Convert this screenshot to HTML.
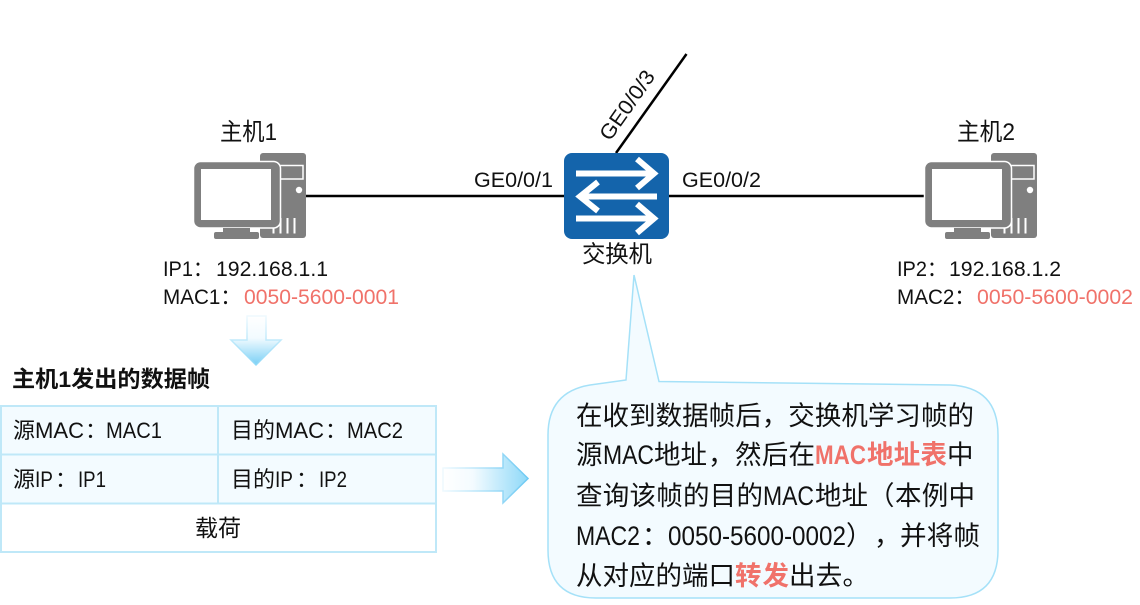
<!DOCTYPE html>
<html><head><meta charset="utf-8"><style>
html,body{margin:0;padding:0;background:#fff}
svg{display:block}
text{font-family:"Liberation Sans","Noto Sans CJK SC",sans-serif;fill:#111}
.r{fill:#f0726a}
.b{font-weight:700}
.m{font-size:26.500px}
.t{font-size:22px}
.l{font-size:21px}
</style></head><body>
<svg width="1140" height="605" viewBox="0 0 1140 605" xmlns="http://www.w3.org/2000/svg">
<defs>
<linearGradient id="gd" x1="0" y1="0" x2="0" y2="1"><stop offset="0" stop-color="#fff"/><stop offset=".45" stop-color="#f2fbff"/><stop offset="1" stop-color="#79cff5"/></linearGradient>
<linearGradient id="gr" x1="0" y1="0" x2="1" y2="0"><stop offset="0" stop-color="#fff"/><stop offset=".35" stop-color="#f4fbff"/><stop offset="1" stop-color="#8fd9f8"/></linearGradient>
<linearGradient id="sd" x1="0" y1="0" x2="0" y2="1"><stop offset="0" stop-color="#eef9fe"/><stop offset="1" stop-color="#8fd9f8"/></linearGradient>
<linearGradient id="sr" x1="0" y1="0" x2="1" y2="0"><stop offset="0" stop-color="#eef9fe"/><stop offset="1" stop-color="#6cc9f3"/></linearGradient>
<g id="pc">
<rect x="260" y="153" width="46" height="85" rx="3" fill="#7f7f7f"/>
<rect x="280" y="165.500" width="23" height="13.500" fill="none" stroke="#fff" stroke-width="1.500"/>
<circle cx="299" cy="190" r="3.200" fill="#fff"/>
<path d="M273.500 226V233.500M280.500 218V233.500M287.500 218V233.500M294.500 218V233.500" stroke="#fff" stroke-width="2"/>
<rect x="193.500" y="161.500" width="87" height="66.500" rx="7" fill="#7f7f7f" stroke="#fff" stroke-width="1.500"/>
<rect x="201" y="169" width="70" height="51" fill="#fff"/>
<rect x="223" y="228" width="27" height="6" fill="#7f7f7f"/>
<rect x="214" y="232" width="45" height="7" rx="2" fill="#7f7f7f"/>
</g>
</defs>

<path d="M306 196H565M669 196H926" stroke="#000" stroke-width="2.500"/>
<path d="M616 153L686.500 54" stroke="#000" stroke-width="2.500"/>
<use href="#pc"/>
<use href="#pc" x="731"/>

<rect x="564" y="153" width="105" height="86" rx="8" fill="#1464ab"/>
<g fill="none" stroke="#fff" stroke-width="6">
<path d="M576 173.500H653M637 159L654 173.500L637 188"/>
<path d="M657 196.500H581M598 182L580 196.500L598 211"/>
<path d="M576 218.500H653M637 204L654 218.500L637 233"/>
</g>

<text x="220" y="140" font-size="24" textLength="57" lengthAdjust="spacingAndGlyphs">主机1</text>
<text x="957" y="140" font-size="24" textLength="58" lengthAdjust="spacingAndGlyphs">主机2</text>
<text class="l" x="474" y="187" textLength="79" lengthAdjust="spacingAndGlyphs">GE0/0/1</text>
<text class="l" x="682" y="187" textLength="79" lengthAdjust="spacingAndGlyphs">GE0/0/2</text>
<text class="l" transform="translate(610 142) rotate(-55)" textLength="80" lengthAdjust="spacingAndGlyphs">GE0/0/3</text>
<text x="582" y="262" font-size="23.500" textLength="70">交换机</text>

<text class="l" x="163" y="276" textLength="50" lengthAdjust="spacingAndGlyphs">IP1：</text>
<text class="l" x="216" y="276" textLength="112" lengthAdjust="spacingAndGlyphs">192.168.1.1</text>
<text class="l" x="163" y="304" textLength="78" lengthAdjust="spacingAndGlyphs">MAC1：</text>
<text class="l r" x="244" y="304" textLength="155" lengthAdjust="spacingAndGlyphs">0050-5600-0001</text>
<text class="l" x="897" y="276" textLength="50" lengthAdjust="spacingAndGlyphs">IP2：</text>
<text class="l" x="949" y="276" textLength="112" lengthAdjust="spacingAndGlyphs">192.168.1.2</text>
<text class="l" x="897" y="304" textLength="78" lengthAdjust="spacingAndGlyphs">MAC2：</text>
<text class="l r" x="977" y="304" textLength="156" lengthAdjust="spacingAndGlyphs">0050-5600-0002</text>

<path d="M247 316H266V340H281L256 365L231 340H247Z" fill="url(#gd)" stroke="url(#sd)" stroke-width="1.500"/>
<text class="b" x="12" y="387" font-size="22.500" textLength="198" lengthAdjust="spacingAndGlyphs">主机1发出的数据帧</text>

<rect x="1" y="406" width="435" height="98" fill="#f3fbff"/>
<rect x="1" y="504" width="435" height="48" fill="#fff"/>
<path d="M1 406H436V552H1ZM1 454.500H436M1 503.500H436M218 406V503" fill="none" stroke="#bfe8f8" stroke-width="2"/>
<text class="t" x="13" y="438">源</text>
<text class="t" x="35" y="438" textLength="49" lengthAdjust="spacingAndGlyphs">MAC</text>
<text class="t" x="85" y="438">：</text>
<text class="t" x="106" y="438" textLength="56" lengthAdjust="spacingAndGlyphs">MAC1</text>
<text class="t" x="231" y="438">目的</text>
<text class="t" x="275" y="438" textLength="49" lengthAdjust="spacingAndGlyphs">MAC</text>
<text class="t" x="325" y="438">：</text>
<text class="t" x="347" y="438" textLength="56" lengthAdjust="spacingAndGlyphs">MAC2</text>
<text class="t" x="13" y="487">源</text>
<text class="t" x="35" y="487" textLength="18" lengthAdjust="spacingAndGlyphs">IP</text>
<text class="t" x="55" y="487">：</text>
<text class="t" x="78" y="487" textLength="28" lengthAdjust="spacingAndGlyphs">IP1</text>
<text class="t" x="231" y="487">目的</text>
<text class="t" x="275" y="487" textLength="18" lengthAdjust="spacingAndGlyphs">IP</text>
<text class="t" x="296" y="487">：</text>
<text class="t" x="319" y="487" textLength="28" lengthAdjust="spacingAndGlyphs">IP2</text>
<text x="195" y="536" font-size="23" textLength="46">载荷</text>

<path d="M443 468H503V454L528 478.500L503 503V491H443Z" fill="url(#gr)" stroke="url(#sr)" stroke-width="1.500"/>

<path d="M634 275L659 381.500L950 385Q998 387 998 435V550Q998 598 950 598H596Q548 598 548 550V435Q548 392 590 385L626 380Z" fill="#f3fbff" stroke="#a5e1f8" stroke-width="1.500"/>

<text class="m" x="576" y="425" textLength="398">在收到数据帧后，交换机学习帧的</text>
<text class="m" x="576" y="464">源</text>
<text class="m" x="603" y="464" textLength="51" lengthAdjust="spacingAndGlyphs">MAC</text>
<text class="m" x="654" y="464" textLength="53">地址</text>
<text class="m" x="708" y="464">，</text>
<text class="m" x="735" y="464" textLength="80">然后在</text>
<text class="m r b" x="815" y="464" textLength="51" lengthAdjust="spacingAndGlyphs">MAC</text>
<text class="m r b" x="867" y="464" textLength="80">地址表</text>
<text class="m" x="947" y="464">中</text>
<text class="m" x="576" y="505" textLength="187">查询该帧的目的</text>
<text class="m" x="763" y="505" textLength="51" lengthAdjust="spacingAndGlyphs">MAC</text>
<text class="m" x="815" y="505" textLength="53">地址</text>
<text class="m" x="868" y="505">（</text>
<text class="m" x="895" y="505" textLength="80">本例中</text>
<text class="m" x="576" y="545" textLength="64" lengthAdjust="spacingAndGlyphs">MAC2</text>
<text class="m" x="642" y="545">：</text>
<text class="m" x="668" y="545" textLength="178" lengthAdjust="spacingAndGlyphs">0050-5600-0002</text>
<text class="m" x="846" y="545">）</text>
<text class="m" x="874" y="545">，</text>
<text class="m" x="900" y="545" textLength="80">并将帧</text>
<text class="m" x="576" y="585" textLength="159">从对应的端口</text>
<text class="m r b" x="735" y="585" textLength="54">转发</text>
<text class="m" x="789" y="585" textLength="80">出去。</text>
</svg>
</body></html>
